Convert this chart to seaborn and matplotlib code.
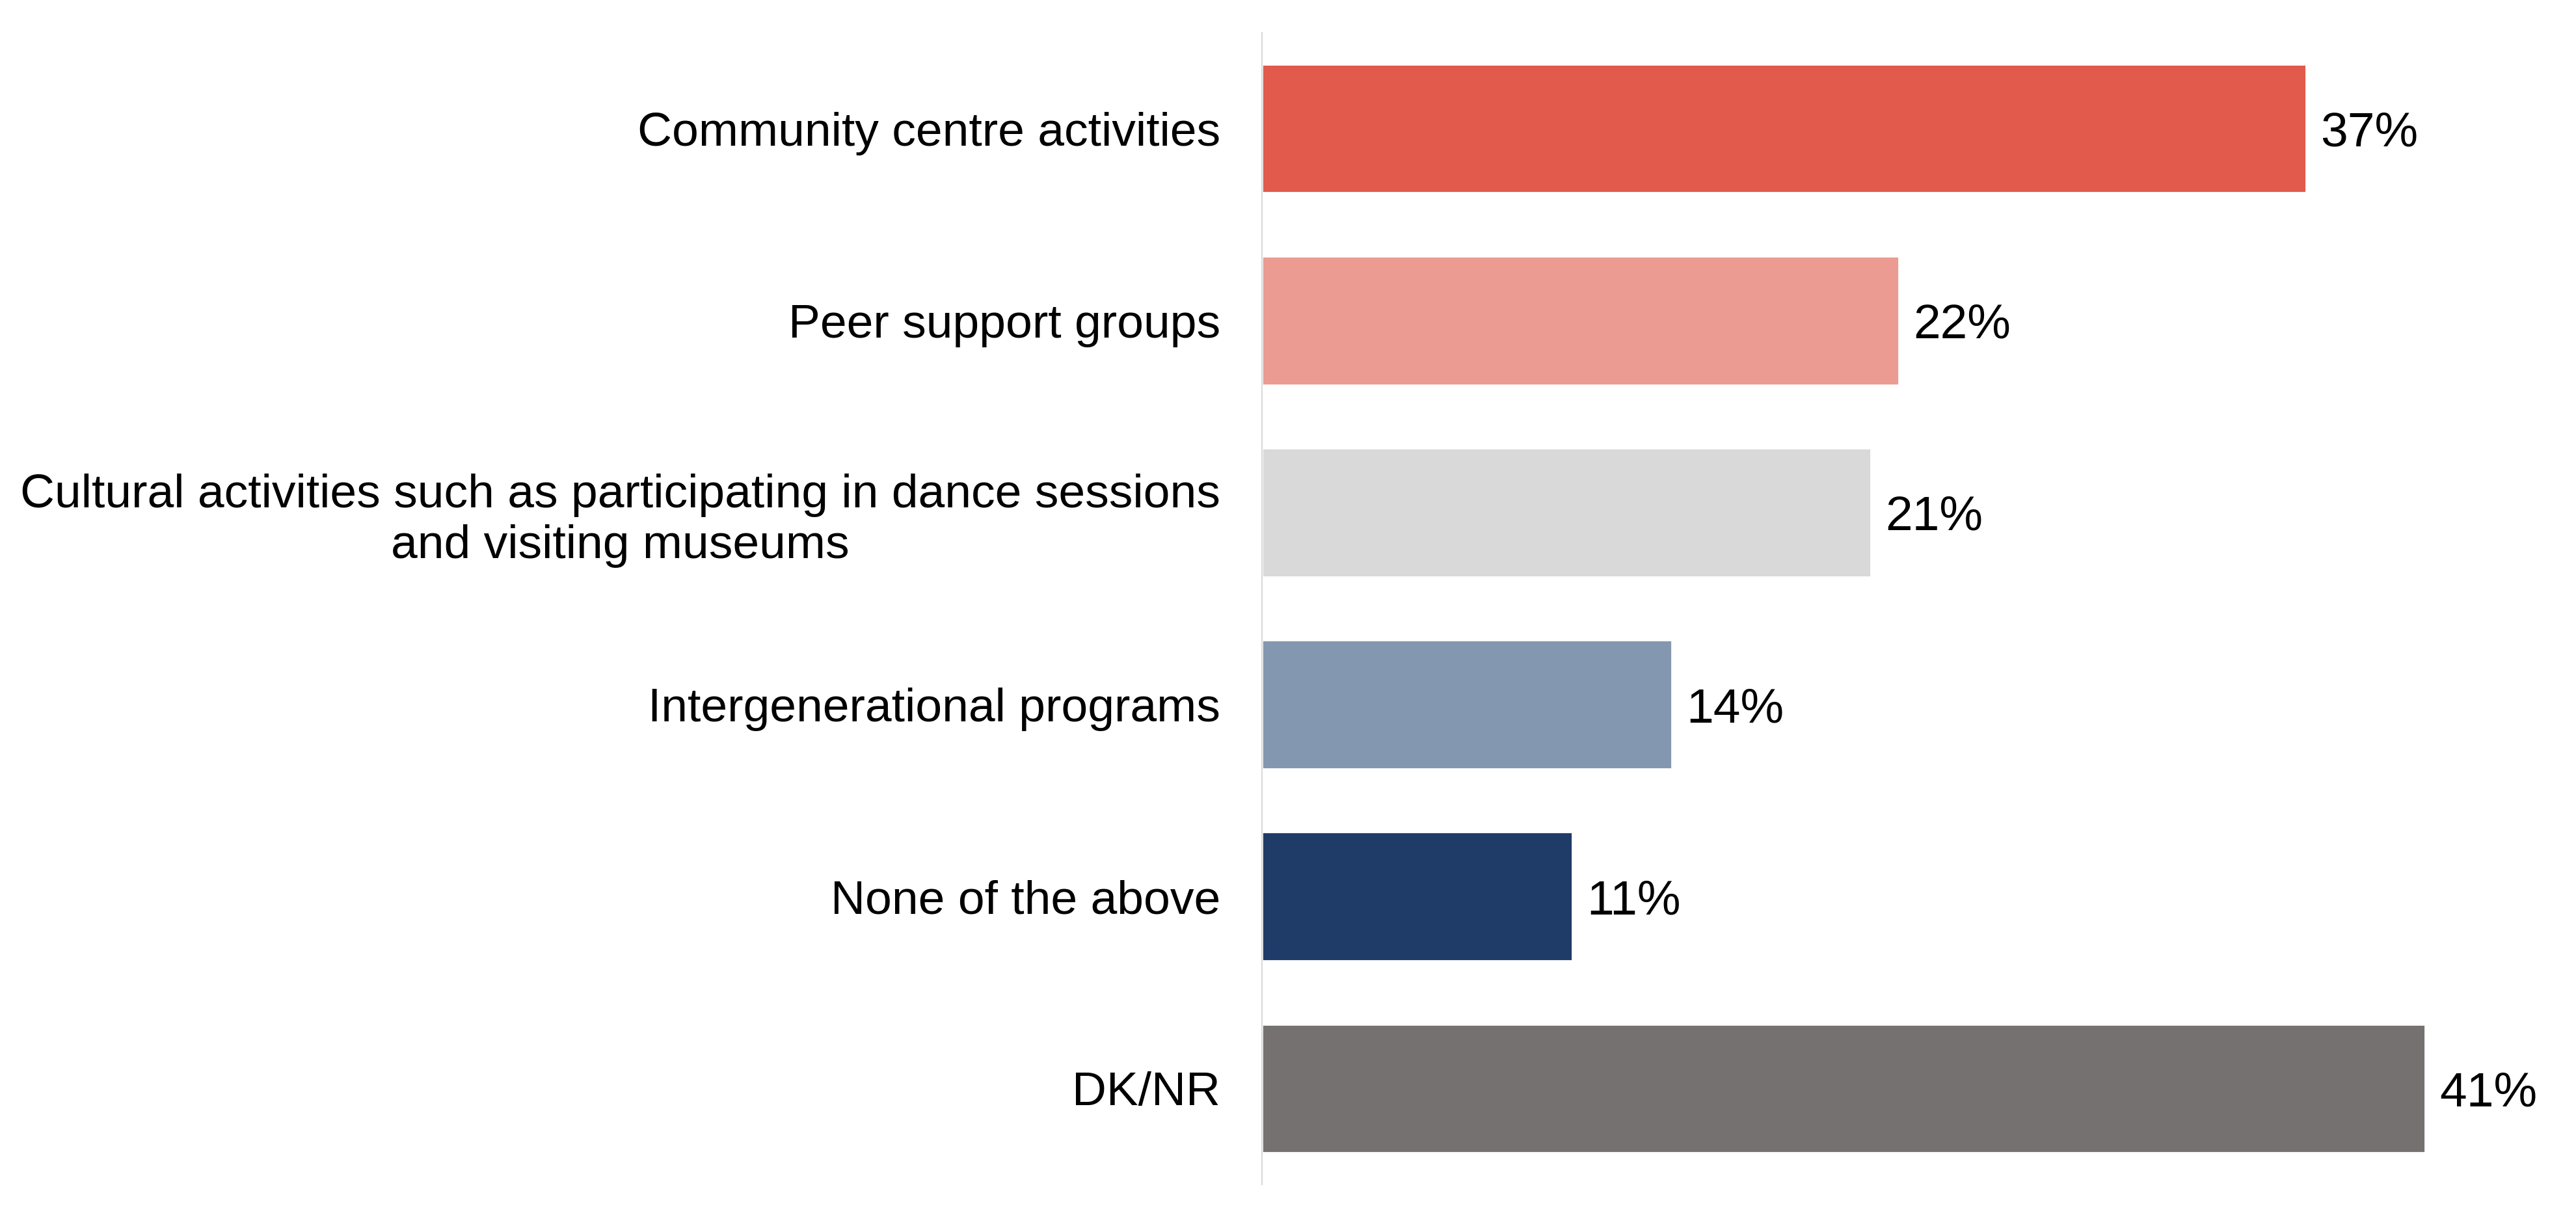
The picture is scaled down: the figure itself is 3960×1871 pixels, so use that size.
import matplotlib
matplotlib.use("Agg")
import matplotlib.pyplot as plt
import seaborn as sns
import pandas as pd

categories = [
    "Community centre activities",
    "Peer support groups",
    "Cultural activities such as participating in dance sessions\nand visiting museums",
    "Intergenerational programs",
    "None of the above",
    "DK/NR",
]
values = [36.7, 22.4, 21.4, 14.4, 10.9, 40.9]
labels = ["37%", "22%", "21%", "14%", "11%", "41%"]
colors = ["#E15A4B", "#EB9B91", "#D9D9D9", "#8497B0", "#1F3B68", "#767171"]

sns.set_theme(style="white")
plt.rcParams["font.family"] = ["Liberation Sans", "DejaVu Sans"]

df = pd.DataFrame({"category": categories, "value": values})

fig = plt.figure(figsize=(19.8, 9.355), dpi=200)
ax = fig.add_axes([0.4899, 0.02672, 0.4955, 0.94656])

sns.barplot(data=df, y="category", x="value", hue="category",
            palette=colors, order=categories, hue_order=categories,
            width=0.67, orient="h", legend=False, ax=ax, saturation=1)

for container, lab in zip(ax.containers, labels):
    texts = ax.bar_label(container, labels=[lab], padding=8, fontsize=27,
                         color="black")
    for t in texts:
        t.set_verticalalignment("center_baseline")

ax.set_xlim(0, 44.88)
ax.set_ylim(5.5, -0.5)
ax.set_xlabel("")
ax.set_ylabel("")
ax.set_xticks([])
ax.tick_params(axis="y", length=0, pad=23, labelsize=26.4, labelcolor="black")
for t in ax.get_yticklabels():
    t.set_multialignment("center")

for s in ["top", "right", "bottom"]:
    ax.spines[s].set_visible(False)
ax.spines["left"].set_color("#D9D9D9")
ax.spines["left"].set_linewidth(0.75)

fig.savefig("out.png", dpi=200, facecolor="white")
